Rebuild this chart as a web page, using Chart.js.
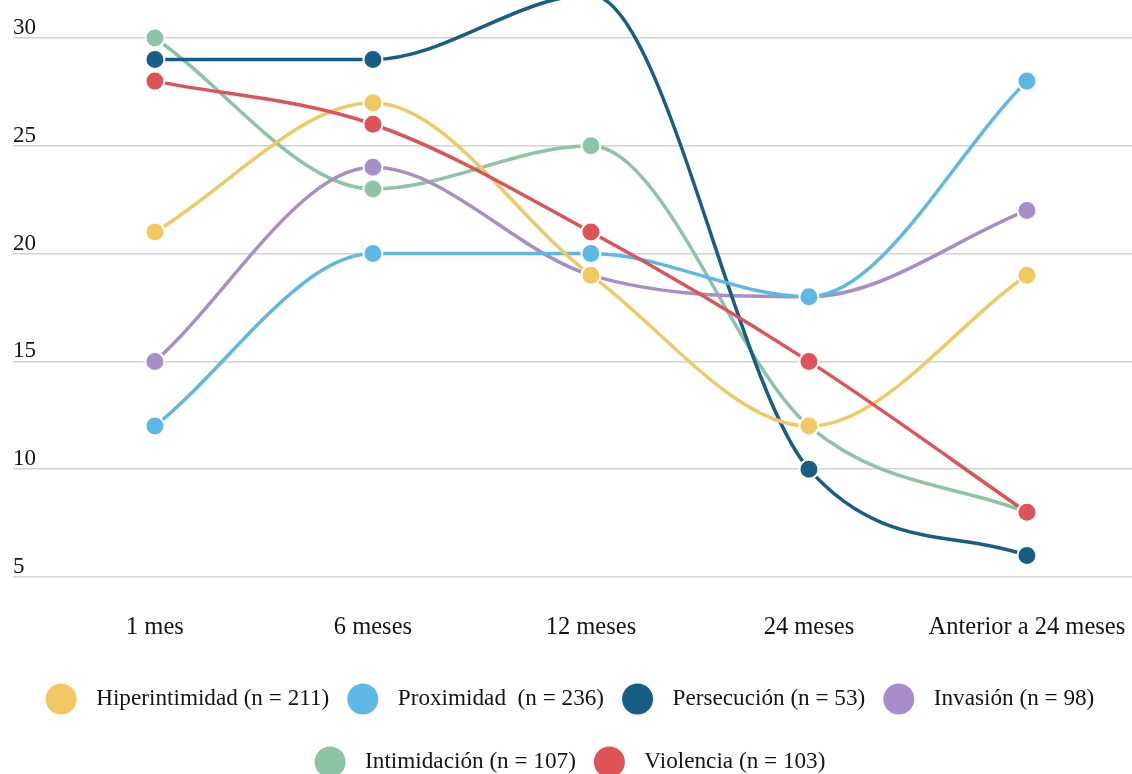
<!DOCTYPE html>
<html>
<head>
<meta charset="utf-8">
<script src="https://cdn.jsdelivr.net/npm/chart.js@4.4.1/dist/chart.umd.min.js"></script>
<style>
  html, body { margin: 0; padding: 0; background: #fff; }
  #wrap { width: 1132px; height: 774px; }
</style>
</head>
<body>
<div id="wrap"><canvas id="grafico"></canvas></div>
<script>
const periodos = ['1 mes', '6 meses', '12 meses', '24 meses', 'Anterior a 24 meses'];
const ticksY = [5, 10, 15, 20, 25, 30];

const nombres = [
    'Hiperintimidad (n = 211)',
    'Proximidad  (n = 236)',
    'Persecución (n = 53)',
    'Invasión (n = 98)',
    'Intimidación (n = 107)',
    'Violencia (n = 103)'
];

const hiperintimidad = [21, 27, 19, 12, 19];
const proximidad = [12, 20, 20, 18, 28];
const persecucion = [29, 29, 32, 10, 6];
const invasion = [15, 24, 19, 18, 22];
const intimidacion = [30, 23, 25, 12, 8];
const violencia = [28, 26, 21, 15, 8];

const valores = [hiperintimidad, proximidad, persecucion, invasion, intimidacion, violencia];
const colores = ['#F1C962', '#5DB8E5', '#175E84', '#A78EC8', '#8CC4A6', '#DE5355'];
// orden de dibujo (menor = encima)
const capas = [1, 2, 3, 4, 5, 0];

const fuente = '"Liberation Serif", "Times New Roman", serif';
const colorTexto = '#141414';

// leyenda propia: circulos grandes y filas separadas
const leyenda = {
    id: 'leyenda',
    afterDraw(chart, args, opts) {
        const ctx = chart.ctx;
        const r = opts.radio;
        ctx.save();
        ctx.font = opts.size + 'px ' + fuente;
        ctx.textBaseline = 'middle';
        ctx.textAlign = 'left';

        const items = chart.data.datasets.map(ds => {
            const w = ctx.measureText(ds.label).width;
            return {text: ds.label, color: ds.backgroundColor, width: r + opts.gapTexto + w};
        });

        const filas = [[]];
        let ancho = 0;
        items.forEach(it => {
            const fila = filas[filas.length - 1];
            const extra = (fila.length ? opts.gapItem : 0) + it.width;
            if (fila.length && ancho + extra > opts.maxWidth) {
                filas.push([it]);
                ancho = it.width;
            } else {
                fila.push(it);
                ancho += extra;
            }
        });

        const top = chart.scales.x.bottom + opts.top;
        filas.forEach((fila, f) => {
            const total = fila.reduce((s, it) => s + it.width, 0) + opts.gapItem * (fila.length - 1);
            let x = (chart.width - total) / 2 + opts.offsetX;
            const y = top + f * opts.alto;
            fila.forEach(it => {
                ctx.beginPath();
                ctx.fillStyle = it.color;
                ctx.arc(x + r, y, r, 0, Math.PI * 2);
                ctx.fill();
                ctx.fillStyle = colorTexto;
                ctx.fillText(it.text, x + r + opts.gapTexto, y);
                x += it.width + opts.gapItem;
            });
        });
        ctx.restore();
    }
};

const datasets = nombres.map((nombre, i) => ({
    label: nombre,
    data: valores[i].map((v, j) => ({x: j, y: v})),
    order: capas[i],
    borderColor: colores[i],
    backgroundColor: colores[i],
    pointBackgroundColor: colores[i],
    pointBorderColor: '#fff',
    pointBorderWidth: 2,
    pointRadius: 9.5,
    pointHoverRadius: 9.5,
    borderWidth: 3.5,
    cubicInterpolationMode: 'monotone',
    fill: false,
    clip: false
}));

const ctx = document.getElementById('grafico').getContext('2d');
new Chart(ctx, {
    type: 'line',
    data: {datasets: datasets},
    options: {
        responsive: true,
        maintainAspectRatio: false,
        animation: false,
        layout: {autoPadding: false, padding: {top: 20, left: 13, right: 0, bottom: 131.9}},
        plugins: {
            legend: {display: false},
            tooltip: {enabled: false},
            leyenda: {size: 23.2, radio: 15.5, gapTexto: 35, gapItem: 18, maxWidth: 1100, top: 56.9, alto: 63, offsetX: 4}
        },
        scales: {
            x: {
                type: 'linear',
                min: -0.651,
                max: 4.482,
                afterBuildTicks: scale => {
                    scale.ticks = periodos.map((p, i) => ({value: i}));
                },
                grid: {display: false, drawTicks: true, tickLength: 35.7},
                border: {display: false},
                ticks: {
                    padding: 0,
                    autoSkip: false,
                    maxRotation: 0,
                    color: colorTexto,
                    font: {family: fuente, size: 24.5},
                    callback: v => periodos[v]
                }
            },
            y: {
                min: 5,
                max: 30.835,
                afterBuildTicks: scale => {
                    scale.ticks = ticksY.map(v => ({value: v}));
                },
                grid: {color: '#d2d2d2', lineWidth: 1.5, drawTicks: false},
                border: {display: false},
                ticks: {
                    mirror: true,
                    padding: 0,
                    labelOffset: -10,
                    color: colorTexto,
                    font: {family: fuente, size: 23}
                }
            }
        }
    },
    plugins: [leyenda]
});
</script>
</body>
</html>
